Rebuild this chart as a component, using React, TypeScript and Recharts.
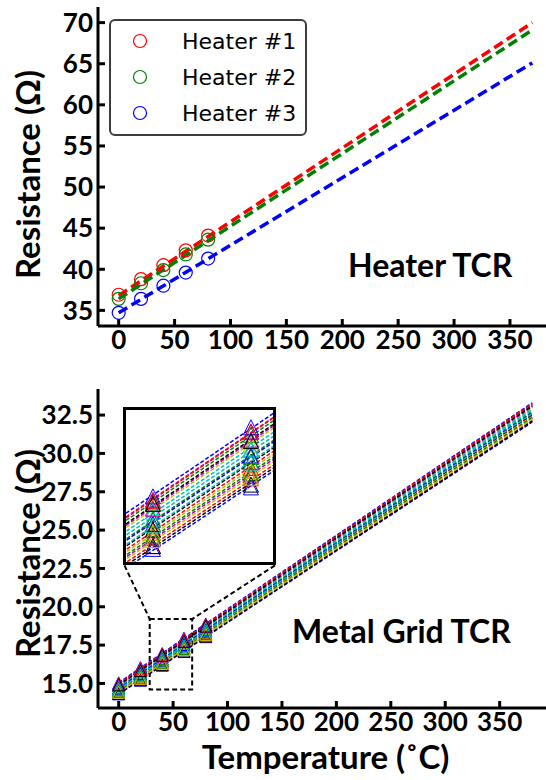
import { ComposedChart, Line, Scatter, XAxis, YAxis, Legend, ReferenceArea, ReferenceLine } from "recharts";

const FONT = "Lato, 'Open Sans', sans-serif";
const LEGEND_FONT = "'DejaVu Sans', sans-serif";

const X_TICKS = [0, 50, 100, 150, 200, 250, 300, 350];

// heater calibration
const HEATER_NAMES = ["Heater #1", "Heater #2", "Heater #3"];
const HEATER_COLORS = ["#ff0000", "#008000", "#0000ff"];
const HEATER_TEMPS = [0, 20, 40, 60, 80];
const HEATER_R = [
  [36.9, 38.8, 40.5, 42.3, 44.1],
  [36.4, 38.3, 39.9, 41.8, 43.6],
  [34.7, 36.4, 38.0, 39.6, 41.3],
];
const HEATER_FIT_TEMPS = [0, 370];
const HEATER_FIT = [
  [36.8, 70.0],
  [36.4, 69.1],
  [34.7, 65.1],
];
const HEATER_Y_TICKS = [35, 40, 45, 50, 55, 60, 65, 70];
const HEATER_X_DOMAIN = [-18.5, 388.5];
const HEATER_Y_DOMAIN = [33.1, 71.9];

// metal grid calibration, 21 grid lines
const GRID_CYCLE = ["#0000ff", "#008000", "#ff0000", "#00bfbf", "#bf00bf", "#bfbf00", "#000000"];
const GRID_TEMPS = [0, 20, 40, 60, 80];
const GRID_R = [
  [14.32, 15.21, 16.19, 17.08, 18.05],
  [14.93, 15.93, 16.85, 17.84, 18.77],
  [14.56, 15.47, 16.46, 17.36, 18.34],
  [14.73, 15.72, 16.63, 17.62, 18.54],
  [14.47, 15.37, 16.35, 17.25, 18.22],
  [14.86, 15.79, 16.78, 17.70, 18.68],
  [14.58, 15.56, 16.47, 17.45, 18.37],
  [15.04, 16.03, 16.95, 17.95, 18.88],
  [14.71, 15.63, 16.61, 17.52, 18.50],
  [14.36, 15.34, 16.23, 17.21, 18.11],
  [14.82, 15.73, 16.73, 17.64, 18.62],
  [14.98, 15.98, 16.90, 17.89, 18.82],
  [14.54, 15.44, 16.42, 17.32, 18.29],
  [14.35, 15.25, 16.23, 17.12, 18.09],
  [14.66, 15.65, 16.55, 17.54, 18.45],
  [14.50, 15.40, 16.38, 17.28, 18.25],
  [14.96, 15.96, 16.88, 17.88, 18.82],
  [14.63, 15.55, 16.53, 17.44, 18.42],
  [14.87, 15.86, 16.77, 17.77, 18.70],
  [14.43, 15.34, 16.32, 17.22, 18.18],
  [14.91, 15.84, 16.84, 17.75, 18.74],
];
const GRID_FIT_TEMPS = [0, 380];
const GRID_FIT = [
  [14.30, 32.05], [14.95, 33.15], [14.55, 32.50], [14.75, 32.80], [14.45, 32.30],
  [14.85, 33.00], [14.60, 32.55], [15.05, 33.30], [14.70, 32.70], [14.38, 32.15],
  [14.80, 32.90], [15.00, 33.20], [14.52, 32.40], [14.34, 32.10], [14.68, 32.65],
  [14.48, 32.35], [14.98, 33.25], [14.62, 32.60], [14.88, 33.05], [14.42, 32.25],
  [14.90, 33.10],
];
const GRID_Y_TICKS = [15, 17.5, 20, 22.5, 25, 27.5, 30, 32.5];
const GRID_X_DOMAIN = [-19, 399];
const GRID_Y_DOMAIN = [13.4, 34.2];

// zoomed region and inset
const ZOOM_X = [28.5, 67.5];
const ZOOM_Y = [14.6, 19.2];
const INSET_X_DOMAIN = [34.5, 64.5];
const INSET_Y_DOMAIN = [16.0, 18.2];
const INSET_CORNERS = [
  { x: 5.35, y: 22.7 },
  { x: 143.6, y: 22.7 },
];

const toRows = (temps: number[], values: number[]) => temps.map((T, j) => ({ T, R: values[j] }));
const heaterPoints = HEATER_R.map((r) => toRows(HEATER_TEMPS, r));
const heaterFits = HEATER_FIT.map((r) => toRows(HEATER_FIT_TEMPS, r));
const gridPoints = GRID_R.map((r) => toRows(GRID_TEMPS, r));
const gridFits = GRID_FIT.map((r) => toRows(GRID_FIT_TEMPS, r));
const gridColor = (i: number) => GRID_CYCLE[i % GRID_CYCLE.length];

const axisLine = { stroke: "#000", strokeWidth: 3 };
const tickLine = { stroke: "#000", strokeWidth: 3 };
const tickStyle = { fill: "#000", fontSize: 26, fontWeight: 700, fontFamily: FONT };

const yTitle = (shift: number) => (props: any) => {
  const vb = props.viewBox;
  const x = 40;
  const y = vb.y + vb.height / 2 + shift;
  return (
    <text x={x} y={y} transform={`rotate(-90 ${x} ${y})`} textAnchor="middle"
      style={{ fontFamily: FONT, fontWeight: 700, fontSize: 33, fill: "#000" }}>
      Resistance (Ω)
    </text>
  );
};

const xTitle = (props: any) => {
  const vb = props.viewBox;
  return (
    <text x={vb.x + vb.width / 2} y={vb.y + 61} textAnchor="middle"
      style={{ fontFamily: FONT, fontWeight: 700, fontSize: 33, fill: "#000" }}>
      Temperature (˚C)
    </text>
  );
};

const ring = (color: string) => (p: any) => (
  <circle cx={p.cx} cy={p.cy} r={6.5} fill="none" stroke={color} strokeWidth={1.2} />
);

const triangle = (color: string, half: number) => (p: any) => (
  <polygon
    points={`${p.cx},${p.cy - half} ${p.cx - half},${p.cy + half} ${p.cx + half},${p.cy + half}`}
    fill="none" stroke={color} strokeWidth={1}
  />
);

const heaterLegend = ({ payload }: any) => {
  const items = (payload || []).filter((entry: any) => HEATER_NAMES.includes(entry.value));
  return (
    <div style={{
      position: "relative", width: 198, height: 117, boxSizing: "border-box",
      border: "2px solid #3c3c3c", borderRadius: 6, background: "#fff"
    }}>
      {items.map((entry: any, i: number) => (
        <div key={i} style={{ position: "absolute", left: 0, top: 2 + i * 36, height: 36, display: "flex", alignItems: "center" }}>
          <svg width={16} height={16} style={{ marginLeft: 21 }}>
            <circle cx={8} cy={8} r={6.5} fill="none" stroke={entry.color} strokeWidth={1.2} />
          </svg>
          <span style={{ marginLeft: 34, fontFamily: LEGEND_FONT, fontSize: 22, color: "#000", whiteSpace: "nowrap" }}>
            {entry.value}
          </span>
        </div>
      ))}
    </div>
  );
};

function HeaterChart() {
  return (
    <ComposedChart width={553} height={371} margin={{ top: 7, right: 0, bottom: 0, left: 0 }}>
      <XAxis xAxisId="top" orientation="top" type="number" domain={HEATER_X_DOMAIN} ticks={X_TICKS}
        height={0} tick={false} tickSize={-7} axisLine={axisLine} tickLine={tickLine} allowDataOverflow />
      <XAxis dataKey="T" type="number" domain={HEATER_X_DOMAIN} ticks={X_TICKS} height={45} interval={0}
        tickSize={-7} tickMargin={12} tick={tickStyle} axisLine={axisLine} tickLine={tickLine} allowDataOverflow />
      <YAxis dataKey="R" type="number" domain={HEATER_Y_DOMAIN} ticks={HEATER_Y_TICKS} width={98} interval={0}
        tickSize={-7} tickMargin={12} tick={tickStyle} axisLine={axisLine} tickLine={tickLine}
        allowDataOverflow label={yTitle(8)} />
      <Legend layout="horizontal" verticalAlign="middle" align="center" content={heaterLegend}
        wrapperStyle={{ left: 109, top: 19, width: 198, height: 117 }} />
      {heaterPoints.map((pts, i) => (
        <Scatter key={`p${i}`} name={HEATER_NAMES[i]} data={pts} dataKey="R" fill={HEATER_COLORS[i]}
          shape={ring(HEATER_COLORS[i])} isAnimationActive={false} />
      ))}
      {heaterFits.map((pts, i) => (
        <Line key={`f${i}`} data={pts} dataKey="R" stroke={HEATER_COLORS[i]} strokeWidth={3.5}
          strokeDasharray="10 5" dot={false} legendType="none" isAnimationActive={false} />
      ))}
    </ComposedChart>
  );
}

function GridInset() {
  return (
    <div style={{
      position: "absolute", left: 123, top: 407, width: 153, height: 158, boxSizing: "border-box",
      border: "3px solid #000", background: "#fff", overflow: "hidden"
    }}>
      <ComposedChart width={147} height={152} margin={{ top: 0, right: 0, bottom: 0, left: 0 }}>
        <XAxis dataKey="T" type="number" domain={INSET_X_DOMAIN} hide allowDataOverflow />
        <YAxis dataKey="R" type="number" domain={INSET_Y_DOMAIN} hide allowDataOverflow />
        {gridFits.map((pts, i) => (
          <Line key={`f${i}`} data={pts} dataKey="R" stroke={gridColor(i)} strokeWidth={1.5}
            strokeDasharray="4 2" dot={false} legendType="none" isAnimationActive={false} />
        ))}
        {gridPoints.map((pts, i) => (
          <Scatter key={`p${i}`} data={pts} dataKey="R" fill={gridColor(i)}
            shape={triangle(gridColor(i), 7.5)} legendType="none" isAnimationActive={false} />
        ))}
      </ComposedChart>
    </div>
  );
}

function GridChart() {
  return (
    <ComposedChart width={553} height={398} margin={{ top: 7, right: 0, bottom: 0, left: 0 }}>
      <XAxis xAxisId="top" orientation="top" type="number" domain={GRID_X_DOMAIN} ticks={X_TICKS}
        height={0} tick={false} tickSize={-7} axisLine={axisLine} tickLine={tickLine} allowDataOverflow />
      <XAxis dataKey="T" type="number" domain={GRID_X_DOMAIN} ticks={X_TICKS} height={72} interval={0}
        tickSize={-7} tickMargin={12} tick={tickStyle} axisLine={axisLine} tickLine={tickLine}
        allowDataOverflow label={xTitle} />
      <YAxis dataKey="R" type="number" domain={GRID_Y_DOMAIN} ticks={GRID_Y_TICKS} width={98} interval={0}
        tickSize={-7} tickMargin={12} tick={tickStyle} axisLine={axisLine} tickLine={tickLine}
        tickFormatter={(v: number) => v.toFixed(1)} allowDataOverflow label={yTitle(5)} />
      <ReferenceArea x1={ZOOM_X[0]} x2={ZOOM_X[1]} y1={ZOOM_Y[0]} y2={ZOOM_Y[1]}
        fill="none" fillOpacity={0} stroke="#000" strokeWidth={2} strokeDasharray="5 3" />
      <ReferenceLine segment={[INSET_CORNERS[0], { x: ZOOM_X[0], y: ZOOM_Y[1] }]}
        stroke="#000" strokeWidth={2} strokeDasharray="5 3" />
      <ReferenceLine segment={[INSET_CORNERS[1], { x: ZOOM_X[1], y: ZOOM_Y[1] }]}
        stroke="#000" strokeWidth={2} strokeDasharray="5 3" />
      {gridFits.map((pts, i) => (
        <Line key={`f${i}`} data={pts} dataKey="R" stroke={gridColor(i)} strokeWidth={1.5}
          strokeDasharray="4 2" dot={false} legendType="none" isAnimationActive={false} />
      ))}
      {gridPoints.map((pts, i) => (
        <Scatter key={`p${i}`} data={pts} dataKey="R" fill={gridColor(i)}
          shape={triangle(gridColor(i), 6)} legendType="none" isAnimationActive={false} />
      ))}
    </ComposedChart>
  );
}

const noteStyle = { fontFamily: FONT, fontWeight: 700, fontSize: 32, fill: "#000" };

export default function App() {
  return (
    <div style={{ position: "absolute", left: 0, top: 0, width: 546, height: 780, overflow: "hidden", background: "#fff" }}>
      <div style={{ position: "absolute", left: 0, top: 0 }}>
        <HeaterChart />
      </div>
      <div style={{ position: "absolute", left: 0, top: 382 }}>
        <GridChart />
      </div>
      <GridInset />
      <svg width={546} height={780} style={{ position: "absolute", left: 0, top: 0, pointerEvents: "none" }}>
        <text x={348} y={277} style={noteStyle}>Heater TCR</text>
        <text x={292} y={643} style={noteStyle}>Metal Grid TCR</text>
      </svg>
    </div>
  );
}
